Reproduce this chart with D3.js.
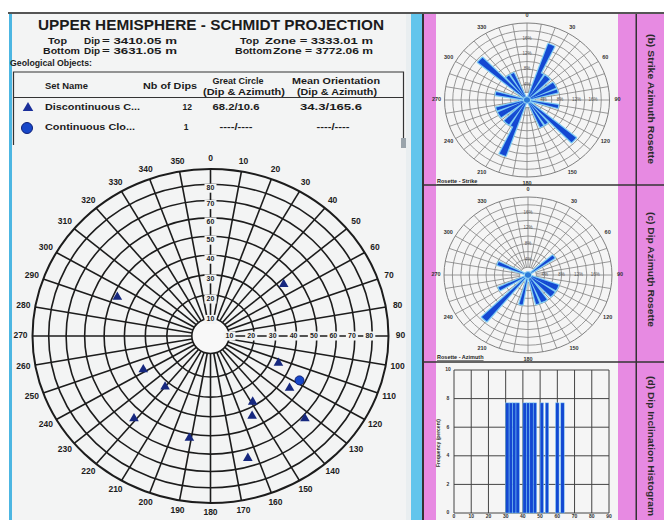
<!DOCTYPE html>
<html><head><meta charset="utf-8">
<script src="https://cdn.jsdelivr.net/npm/d3@7"></script>
<style>
html,body{margin:0;padding:0;background:#fff;}
svg{display:block;font-family:"Liberation Sans",Arial,sans-serif;}
</style></head><body>
<svg id="c" width="664" height="520"></svg>
<script>
// ---------- header / table content ----------
const titleText = "UPPER HEMISPHERE - SCHMIDT PROJECTION";
const depthRows = ["Top", "Bottom"];
const dipDepths = ["3410.05", "3631.05"];
const zoneDepths = ["3333.01", "3772.06"];
const setNames = ["Discontinuous C...", "Continuous Clo..."];
const setCounts = [12, 1];
const greatCircles = ["68.2/10.6", "----/----"];
const meanOrientations = ["34.3/165.6", "----/----"];

// ---------- stereonet ticks ----------
const azimuthTicks = d3.range(0, 360, 10);
const dipRingTicks = [10, 20, 30, 40, 50, 60, 70, 80];

// ---------- poles (azimuth deg, dip deg) ----------
const discontinuousAzimuth = [294, 53, 242, 220, 221, 191, 113, 125, 149, 154, 133, 164];
const discontinuousDip     = [47.8, 42.7, 35.2, 32.6, 55.2, 52.2, 34.1, 45.1, 38.0, 44.3, 61.7, 65.1];
const continuousAzimuth = [118];
const continuousDip     = [47.2];

// ---------- strike rosette (5 deg bins, percent) ----------
const strikeBinStart = [20, 25, 35, 40, 55, 60, 70, 100, 130, 140, 150, 200, 205, 215, 220, 235, 240, 250, 280, 310, 320, 330];
const strikePercent  = [15.4, 7.7, 7.7, 7.7, 7.7, 7.7, 7.7, 7.7, 15.4, 7.7, 7.7, 15.4, 7.7, 7.7, 7.7, 7.7, 7.7, 7.7, 7.7, 15.4, 7.7, 7.7];

// ---------- dip azimuth rosette (5 deg bins, percent) ----------
const azimuthBinStart = [50, 110, 115, 125, 130, 145, 150, 160, 190, 220, 240, 290];
const azimuthPercent  = [7.7, 7.7, 7.7, 7.7, 7.7, 7.7, 7.7, 7.7, 7.7, 15.4, 7.7, 7.7];
const roseAngleTicks = [0, 30, 60, 90, 120, 150, 180, 210, 240, 270, 300, 330];
const rosePercentTicks = [4, 8, 12, 16];

// ---------- dip inclination histogram (2 deg bins, percent) ----------
const dipBinStart = [30, 32, 34, 36, 40, 42, 44, 46, 50, 53, 59, 62];
const dipBinPercent = [7.7, 7.7, 7.7, 7.7, 7.7, 7.7, 7.7, 7.7, 7.7, 7.7, 7.7, 7.7];
const histXTicks = [0, 10, 20, 30, 40, 50, 60, 70, 80, 90];
const histYTicks = [0, 2, 4, 6, 8, 10];

// ---------- panel captions ----------
const panelCaptions = ["(b) Strike Azimuth Rosette", "(c) Dip Azimuth Rosette", "(d) Dip Inclination Histogram"];

const svg = d3.select("#c");
const rad = d => d * Math.PI / 180;
const BG = "#f3f4f4";
const INK = "#1c1c1c";
const PETAL = "#1448d2", PETAL_EDGE = "#7fcdf4";

// ================= frame =================
svg.append("rect").attr("x", 0).attr("y", 0).attr("width", 664).attr("height", 520).attr("fill", "#fff");
svg.append("rect").attr("x", 9).attr("y", 13).attr("width", 397).attr("height", 507).attr("fill", BG);
svg.append("rect").attr("x", 9).attr("y", 13).attr("width", 3).attr("height", 507).attr("fill", "#4cb6e2");
svg.append("rect").attr("x", 406).attr("y", 13).attr("width", 5).attr("height", 507).attr("fill", "#e9eef0");
svg.append("rect").attr("x", 411).attr("y", 13).attr("width", 11).attr("height", 507).attr("fill", "#62c5ec");
svg.append("rect").attr("x", 422).attr("y", 13).attr("width", 2).attr("height", 507).attr("fill", "#333");
svg.append("rect").attr("x", 424).attr("y", 13).attr("width", 240).attr("height", 507).attr("fill", "#e78ae2");
svg.append("rect").attr("x", 436).attr("y", 13).attr("width", 182).attr("height", 507).attr("fill", "#f5f5f5");
svg.append("rect").attr("x", 635.5).attr("y", 13).attr("width", 1.5).attr("height", 507).attr("fill", "#333");
svg.append("line").attr("x1", 8).attr("x2", 664).attr("y1", 13).attr("y2", 13).attr("stroke", "#555").attr("stroke-width", 2);
[185, 362].forEach(y => svg.append("line").attr("x1", 422).attr("x2", 664).attr("y1", y).attr("y2", y).attr("stroke", "#333").attr("stroke-width", 1.5));

// ================= header =================
const txt = (x, y, s, size, opts = {}) => {
  const t = svg.append("text").attr("x", x).attr("y", y).text(s)
    .attr("font-size", size).attr("font-weight", "bold").attr("fill", opts.fill || INK)
    .attr("text-anchor", opts.anchor || "start").attr("dominant-baseline", "middle");
  if (opts.w) t.attr("textLength", opts.w).attr("lengthAdjust", "spacingAndGlyphs");
  return t;
};
txt(38, 26, titleText, 15, { w: 346 });
txt(48, 42, depthRows[0], 9, { w: 19 });
txt(43, 52, depthRows[1], 9, { w: 37 });
dipDepths.forEach((d, i) => {
  txt(84, 42 + i * 10, "Dip", 9, { w: 16 });
  txt(102, 42 + i * 10, "= " + d + " m", 9, { w: 75 });
});
txt(240, 42, depthRows[0], 9, { w: 19 });
txt(235, 52, depthRows[1], 9, { w: 37 });
zoneDepths.forEach((d, i) => {
  txt(i ? 273 : 265, 42 + i * 10, "Zone = " + d + " m", 9, { w: i ? 100 : 108 });
});
txt(10, 64, "Geological Objects:", 9, { w: 82 });

// table box
const tb = svg.append("g").attr("fill", "none").attr("stroke", "#333").attr("stroke-width", 1.2);
tb.append("path").attr("d", "M13.5,145 V72 H403.5 V145");
tb.append("line").attr("x1", 13.5).attr("x2", 403.5).attr("y1", 97.5).attr("y2", 97.5);
txt(45, 87, "Set Name", 8.5, { w: 43 });
txt(143, 87, "Nb of Dips", 8.5, { w: 54 });
txt(238, 82, "Great Circle", 8.5, { anchor: "middle", w: 51 });
txt(244, 92.5, "(Dip & Azimuth)", 8.5, { anchor: "middle", w: 82 });
txt(336, 82, "Mean Orientation", 8.5, { anchor: "middle", w: 88 });
txt(337, 92.5, "(Dip & Azimuth)", 8.5, { anchor: "middle", w: 80 });
setNames.forEach((n, i) => {
  const y = 108 + i * 20;
  txt(45, y, n, 8.5, { w: i ? 90 : 95 });
  txt(i ? 186 : 192, y, String(setCounts[i]), 8.5, { anchor: i ? "middle" : "end" });
  txt(236, y, greatCircles[i], 8.5, { anchor: "middle", w: i ? 33 : 47 });
  txt(i ? 333 : 331, y, meanOrientations[i], 8.5, { anchor: "middle", w: i ? 33 : 62 });
});
svg.append("path").attr("d", d3.symbol(d3.symbolTriangle, 48)())
  .attr("transform", "translate(28,108)").attr("fill", "#1a2f9a");
svg.append("circle").attr("cx", 27).attr("cy", 128).attr("r", 5.5).attr("fill", "#1747c9").attr("stroke", "#0d1f77");
svg.append("rect").attr("x", 401).attr("y", 138).attr("width", 5).attr("height", 10).attr("fill", "#9aa4ab");

// ================= stereonet (Schmidt equal-area) =================
const cx = 210.5, cy = 336, RX = 178, RY = 167;
const eqArea = d => Math.SQRT2 * Math.sin(rad(d) / 2);
const rx = d3.scaleLinear().domain([0, 1]).range([0, RX]);
const ry = d3.scaleLinear().domain([0, 1]).range([0, RY]);
const px = (az, dip) => cx + rx(eqArea(dip)) * Math.sin(rad(az));
const py = (az, dip) => cy - ry(eqArea(dip)) * Math.cos(rad(az));
const HOLE = 0.105; // central blank disc, fraction of the net radius

const net = svg.append("g");
const ringDips = d3.range(20, 91, 10);
net.selectAll("ellipse.ring").data(ringDips).join("ellipse")
  .attr("cx", cx).attr("cy", cy)
  .attr("rx", d => rx(eqArea(d))).attr("ry", d => ry(eqArea(d)))
  .attr("fill", "none")
  .attr("stroke", INK).attr("stroke-width", d => d === 90 ? 2 : 1.6);
net.selectAll("line.spoke").data(azimuthTicks).join("line")
  .attr("x1", a => cx + rx(HOLE) * Math.sin(rad(a))).attr("y1", a => cy - ry(HOLE) * Math.cos(rad(a)))
  .attr("x2", a => px(a, 90)).attr("y2", a => py(a, 90))
  .attr("stroke", INK).attr("stroke-width", 1.6);
net.append("ellipse").attr("cx", cx).attr("cy", cy).attr("rx", rx(HOLE)).attr("ry", ry(HOLE))
  .attr("fill", "#f8f8f8").attr("stroke", INK).attr("stroke-width", 1.6);

// azimuth labels
net.selectAll("text.az").data(azimuthTicks).join("text")
  .attr("x", a => cx + (RX + 12) * Math.sin(rad(a)))
  .attr("y", a => cy - (RY + 10) * Math.cos(rad(a)))
  .attr("text-anchor", "middle").attr("dominant-baseline", "middle")
  .attr("font-size", 8.5).attr("font-weight", "bold").attr("fill", INK)
  .text(a => a);

// dip ring labels on north and east axes
const ringLabel = (x, y, d) => {
  net.append("rect").attr("x", x - 6).attr("y", y - 4.5).attr("width", 12).attr("height", 9).attr("fill", BG);
  net.append("text").attr("x", x).attr("y", y).attr("text-anchor", "middle").attr("dominant-baseline", "middle")
    .attr("font-size", 7).attr("font-weight", "bold").attr("fill", INK).text(d);
};
dipRingTicks.forEach(d => ringLabel(cx, cy - ry(eqArea(d)) + 4, d));
dipRingTicks.forEach(d => ringLabel(cx + rx(eqArea(d)) - 3, cy, d));

// poles
const tri = d3.symbol(d3.symbolTriangle, 40)();
net.selectAll("path.pole").data(discontinuousAzimuth).join("path")
  .attr("d", tri)
  .attr("transform", (a, i) => `translate(${px(a, discontinuousDip[i])},${py(a, discontinuousDip[i])})`)
  .attr("fill", "#16287f");
net.selectAll("circle.pole").data(continuousAzimuth).join("circle")
  .attr("cx", (a, i) => px(a, continuousDip[i])).attr("cy", (a, i) => py(a, continuousDip[i]))
  .attr("r", 4.5).attr("fill", "#1747c9").attr("stroke", "#0d1f77");

// ================= rosettes =================
function rosette(ocx, ocy, orx, ory, starts, pct, caption) {
  const R0 = 80;
  const g = svg.append("g");
  const r = d3.scaleLinear().domain([0, 20]).range([0, R0]);
  const grid = g.append("g").attr("transform", `translate(${ocx},${ocy}) scale(${orx / R0},${ory / R0})`);
  grid.selectAll("circle").data(d3.range(2, 20.1, 2)).join("circle")
    .attr("r", d => r(d)).attr("fill", "none").attr("stroke", "#808080")
    .attr("stroke-width", d => d === 20 ? 1 : 0.8).attr("vector-effect", "non-scaling-stroke");
  grid.selectAll("line").data(azimuthTicks).join("line")
    .attr("x1", a => r(2) * Math.sin(rad(a))).attr("y1", a => -r(2) * Math.cos(rad(a)))
    .attr("x2", a => r(20) * Math.sin(rad(a))).attr("y2", a => -r(20) * Math.cos(rad(a)))
    .attr("stroke", "#808080").attr("stroke-width", 0.8).attr("vector-effect", "non-scaling-stroke");
  const arc = d3.arc().innerRadius(0);
  // light halo under each petal, then the solid petal
  [[PETAL_EDGE, 2.4], [PETAL, 0]].forEach(([col, sw]) => {
    grid.append("g").selectAll("path").data(starts).join("path")
      .attr("d", (s, i) => arc({ outerRadius: r(pct[i]), startAngle: rad(s - 0.5), endAngle: rad(s + 5.5) }))
      .attr("fill", col).attr("stroke", sw ? col : "none").attr("stroke-width", sw)
      .attr("stroke-linejoin", "round").attr("vector-effect", "non-scaling-stroke");
  });
  grid.append("circle").attr("r", 3.5).attr("fill", "#2a7ad8").attr("stroke", "#9ad8f5")
    .attr("vector-effect", "non-scaling-stroke");
  g.selectAll("text.ang").data(roseAngleTicks).join("text")
    .attr("x", a => ocx + (orx + 8) * Math.sin(rad(a)))
    .attr("y", a => ocy - (ory + 7) * Math.cos(rad(a)))
    .attr("text-anchor", "middle").attr("dominant-baseline", "middle")
    .attr("font-size", 5.5).attr("font-weight", "bold").attr("fill", "#333").text(a => a);
  rosePercentTicks.forEach(p => {
    g.append("text").attr("x", ocx + orx / R0 * r(p)).attr("y", ocy)
      .attr("text-anchor", "middle").attr("dominant-baseline", "middle")
      .attr("font-size", 4.5).attr("fill", "#555").text(p + "%");
    g.append("text").attr("x", ocx).attr("y", ocy - ory / R0 * r(p))
      .attr("text-anchor", "middle").attr("dominant-baseline", "middle")
      .attr("font-size", 4.5).attr("fill", "#555").text(p + "%");
  });
  g.append("text").attr("x", 437).attr("y", ocy + ory + 6).attr("font-size", 5.5)
    .attr("font-weight", "bold").attr("fill", "#222").attr("text-decoration", "underline").text(caption);
}
rosette(527, 100, 82.5, 77, strikeBinStart, strikePercent, "Rosette - Strike");
rosette(528, 275, 84, 78, azimuthBinStart, azimuthPercent, "Rosette - Azimuth");

// ================= dip inclination histogram =================
const hx = d3.scaleLinear().domain([0, 90]).range([454, 609]);
const hy = d3.scaleLinear().domain([0, 10]).range([513, 370]);
const hg = svg.append("g");
hg.selectAll("line.v").data(histXTicks).join("line")
  .attr("x1", d => hx(d)).attr("x2", d => hx(d)).attr("y1", hy(0)).attr("y2", hy(10))
  .attr("stroke", "#444").attr("stroke-width", 1);
hg.selectAll("line.h").data(histYTicks).join("line")
  .attr("x1", hx(0)).attr("x2", hx(90)).attr("y1", d => hy(d)).attr("y2", d => hy(d))
  .attr("stroke", "#444").attr("stroke-width", 1);
hg.selectAll("rect.bar").data(dipBinStart).join("rect")
  .attr("x", d => hx(d)).attr("width", hx(2) - hx(0))
  .attr("y", (d, i) => hy(dipBinPercent[i])).attr("height", (d, i) => hy(0) - hy(dipBinPercent[i]))
  .attr("fill", PETAL).attr("stroke", PETAL_EDGE).attr("stroke-width", 0.5);
hg.selectAll("text.xt").data(histXTicks).join("text")
  .attr("x", d => hx(d)).attr("y", 517).attr("text-anchor", "middle").attr("dominant-baseline", "middle")
  .attr("font-size", 5).attr("font-weight", "bold").attr("fill", "#333").text(d => d);
hg.selectAll("text.yt").data(histYTicks).join("text")
  .attr("x", hx(0) - 6).attr("y", d => hy(d)).attr("text-anchor", "middle").attr("dominant-baseline", "middle")
  .attr("font-size", 5).attr("font-weight", "bold").attr("fill", "#333").text(d => d);
hg.append("text").attr("transform", "translate(440,443) rotate(-90)")
  .attr("text-anchor", "middle").attr("font-size", 5).attr("font-weight", "bold").attr("fill", "#333")
  .text("Frequency (percent)");

// ================= side captions =================
const captionPlace = [[34, 130], [212, 115], [376, 140]];
panelCaptions.forEach((s, i) => {
  svg.append("text").attr("transform", `translate(650,${captionPlace[i][0]}) rotate(90)`)
    .attr("font-size", 9).attr("font-weight", "bold").attr("fill", "#2a2a2a")
    .attr("dominant-baseline", "middle")
    .attr("textLength", captionPlace[i][1]).attr("lengthAdjust", "spacingAndGlyphs").text(s);
});
svg.append("circle").attr("cx", 648).attr("cy", 280).attr("r", 1.2).attr("fill", "#333");
</script></body></html>
